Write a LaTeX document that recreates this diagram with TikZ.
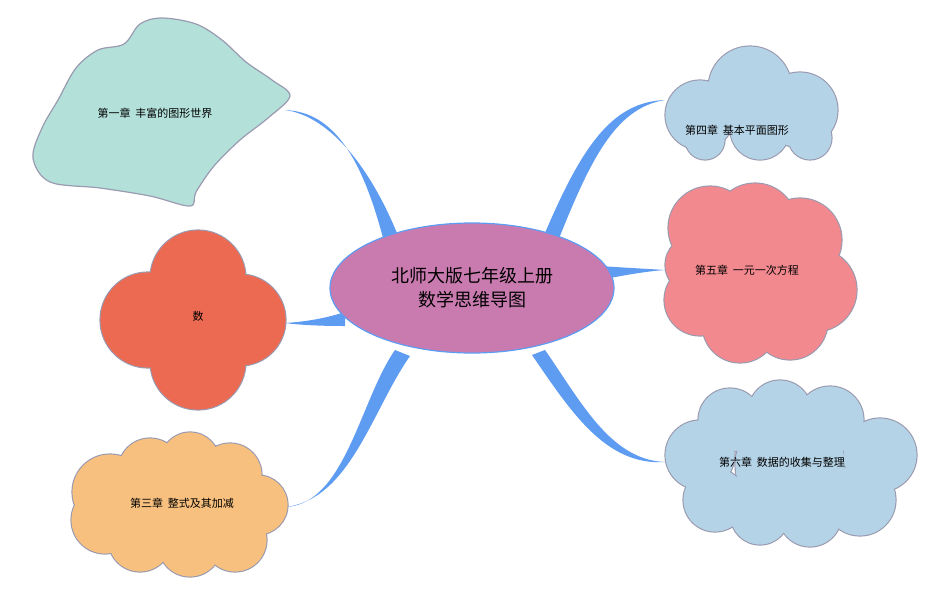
\documentclass[tikz,border=0pt]{standalone}
\usepackage{fontspec}
\usetikzlibrary{shapes.geometric}
\newfontfamily\cjk{Noto Sans CJK SC}
\definecolor{br}{HTML}{5E9CF2}
\definecolor{ol}{HTML}{9A9AB0}
\definecolor{teal}{HTML}{B3E1DA}
\definecolor{redf}{HTML}{EC6A52}
\definecolor{orng}{HTML}{F8C07E}
\definecolor{lblue}{HTML}{B4D3E6}
\definecolor{pinkf}{HTML}{F2898F}
\definecolor{ctr}{HTML}{C97BB0}
\tikzset{lbl/.style={font=\cjk\fontsize{11}{13}\selectfont,text=black},
 outl/.style={draw=ol,line width=1.2pt}}
\newcommand\blob[2]{% #1 colour, #2 circle list
 \foreach \x/\y/\r in {#2}{\draw[outl,fill=#1] (\x,\y) circle (\r);}
 \foreach \x/\y/\r in {#2}{\fill[#1] (\x,\y) circle (\r-0.6);}}
\begin{document}
\begin{tikzpicture}[x=1pt,y=-1pt]
\useasboundingbox (0,0) rectangle (950,590);
\fill[white] (0,0) rectangle (950,590);
% branches
\fill[br] (388,258) .. controls (365,160) and (335,112) .. (285,110) .. controls (330,116) and (375,170) .. (405,254) -- cycle;
\fill[br] (345,312) .. controls (320,320) and (300,322) .. (285,323) .. controls (300,325) and (320,326) .. (345,326) -- cycle;
\fill[br] (395,350) .. controls (360,400) and (345,505) .. (285,507) .. controls (350,500) and (372,410) .. (410,356) -- cycle;
\fill[br] (542,240) .. controls (580,150) and (610,102) .. (665,100) .. controls (615,108) and (590,160) .. (556,246) -- cycle;
\fill[br] (600,266) .. controls (630,268) and (650,269) .. (665,270) .. controls (650,271) and (630,274) .. (600,280) -- cycle;
\fill[br] (545,350) .. controls (580,400) and (610,460) .. (665,462) .. controls (605,466) and (570,410) .. (532,355) -- cycle;
% ginkgo
\draw[outl,fill=teal] plot[smooth cycle,tension=0.55] coordinates {(190,206) (150,196) (100,188) (50,182) (33,158) (42,128) (58,100) (76,68) (98,50) (124,44) (140,24) (162,18) (196,24) (222,40) (246,62) (272,80) (290,96) (268,118) (240,140) (214,166) (196,192)};
\node[lbl] (c1) at (155,113) {第一章\ \ 丰富的图形世界};
% red flower
\blob{redf}{198/278/48, 198/362/48, 148/320/48, 240/320/46, 198/320/50}
\node[lbl] (s) at (198,316) {数};
% orange cloud
\blob{orng}{110/492/38, 150/470/32, 190/462/30, 230/475/32, 258/505/30, 235/540/32, 190/545/32, 140/540/32, 105/520/34, 180/505/50}
\node[lbl] (c3) at (182,503) {第三章\ \ 整式及其加减};
% blue cloud 4
\blob{lblue}{700/115/35, 750/88/42, 800/110/38, 810/138/22, 760/130/30, 705/140/20}
\node[lbl] (c4) at (737,130) {第四章\ \ 基本平面图形};
% pink
\blob{pinkf}{710/228/42, 755/225/42, 800/240/42, 815/290/42, 790/322/38, 740/325/38, 700/300/36, 695/265/30, 755/272/50}
\node[lbl] (c5) at (747,270) {第五章\ \ 一元一次方程};
% blue cloud 6
\blob{lblue}{700/455/35, 730/420/32, 780/412/32, 830/420/34, 880/455/37, 860/500/36, 810/515/32, 760/515/30, 715/500/32, 790/465/55}
\node[lbl] (c6) at (782,462) {第六章\ \ 数据的收集与整理};
% center
\node[ellipse,draw=br,line width=1.2pt,fill=ctr,minimum width=284pt,minimum height=130pt,align=center,font=\cjk\fontsize{18}{24}\selectfont] (ctr) at (472,288) {北师大版七年级上册\\数学思维导图};
\end{tikzpicture}
\end{document}
